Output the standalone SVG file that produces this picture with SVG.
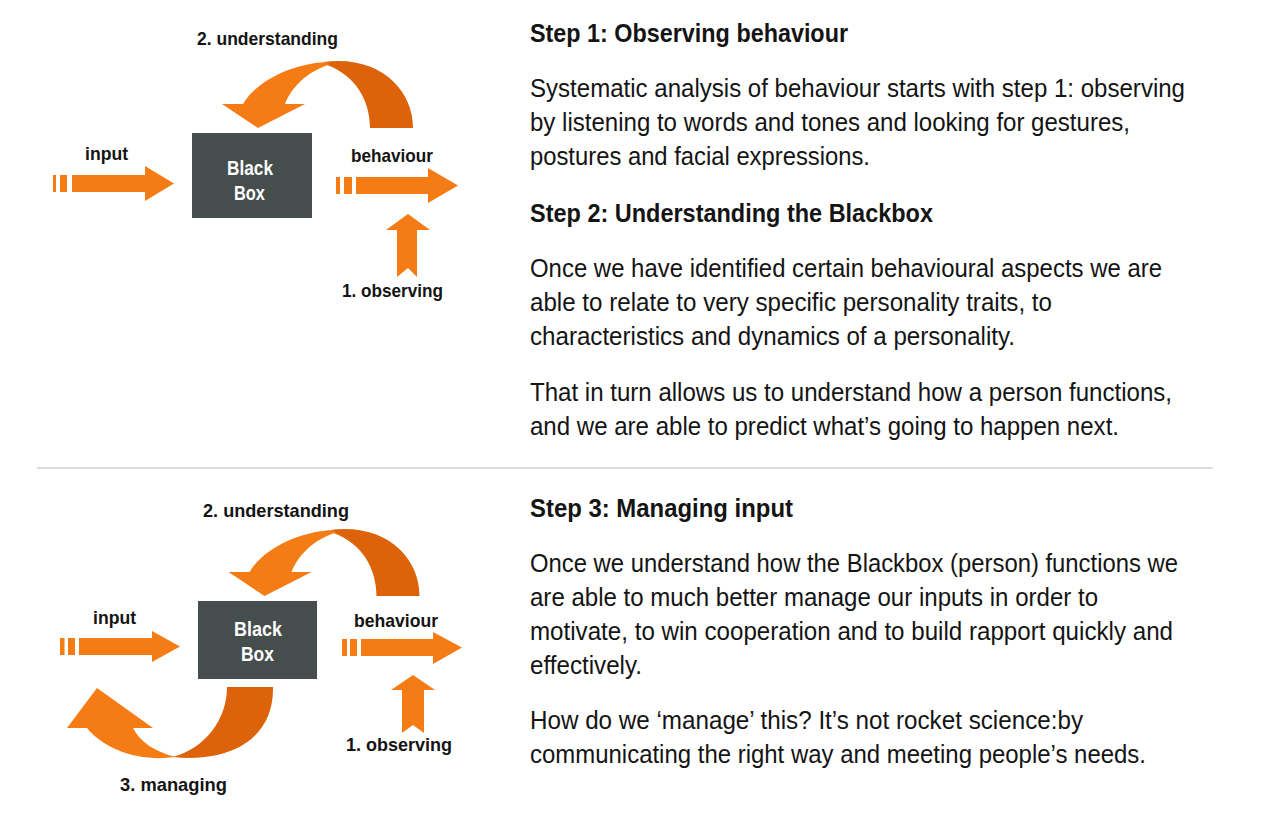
<svg xmlns="http://www.w3.org/2000/svg" width="1276" height="836" viewBox="0 0 1276 836">
<style>
.bg{fill:#ffffff}
.box{fill:#454d4d}
.bt{font-family:"Liberation Sans",Arial,sans-serif;font-weight:bold;font-size:21px;fill:#ffffff}
.lb{font-family:"Liberation Sans",Arial,sans-serif;font-weight:bold;font-size:18.5px;fill:#141414}
.h{font-family:"Liberation Sans",Arial,sans-serif;font-weight:bold;font-size:25px;fill:#141414}
.p{font-family:"Liberation Sans",Arial,sans-serif;font-size:25px;fill:#141414}
.or{fill:#f57b14}
.dk{fill:#dc6309}
.sep{stroke:#cdd3d3;stroke-width:1.5}
</style>
<defs>
<g id="understand">
<path class="dk" d="M324,62 C380,55 413,90 413,128 L370,128 C370,100 355,75 327,65 Z"/>
<path class="or" d="M326,62 C290,64 256,82 243,104 L222,104 L258,128 L305,104 L285,104 C291,88 307,71 330,64.5 Z"/>
</g>
</defs>
<rect class="bg" x="0" y="0" width="1276" height="836"/>

<g id="connectors">
  <!-- top diagram -->
  <g id="top-input-arrow">
    <rect class="or" x="53" y="175" width="3" height="17"/>
    <rect class="or" x="60" y="175" width="7" height="17"/>
    <polygon class="or" points="72,175 145,175 145,166 174,183.5 145,201 145,192 72,192"/>
  </g>
  <g id="top-behaviour-arrow">
    <rect class="or" x="336" y="177" width="4" height="17"/>
    <rect class="or" x="344" y="177" width="8" height="17"/>
    <polygon class="or" points="356,177 428,177 428,168 458,185.5 428,203 428,194 356,194"/>
  </g>
  <g id="top-observing-arrow">
    <polygon class="or" points="408,214 430,230 417,230 417,277 408,268 397,277 397,230 386,230"/>
  </g>
  <g id="top-understanding-arrow">
    <use href="#understand"/>
  </g>
  <!-- bottom diagram -->
  <g id="bottom-input-arrow">
    <rect class="or" x="60" y="638" width="4.5" height="17"/>
    <rect class="or" x="68" y="638" width="7" height="17"/>
    <polygon class="or" points="79,638 152,638 152,631 180,646.5 152,662 152,655 79,655"/>
  </g>
  <g id="bottom-behaviour-arrow">
    <rect class="or" x="342" y="639" width="5" height="17"/>
    <rect class="or" x="350" y="639" width="7" height="17"/>
    <polygon class="or" points="361,639 433,639 433,632 462,647.5 433,664 433,656 361,656"/>
  </g>
  <g id="bottom-observing-arrow">
    <polygon class="or" points="413,675 435,690 424,690 424,733 413,725 402,733 402,690 391,690"/>
  </g>
  <g id="bottom-understanding-arrow">
    <use href="#understand" transform="translate(6.5,468)"/>
  </g>
  <g id="bottom-managing-arrow">
    <path class="dk" d="M227,687 L273,687 C274,738 232,763 173,757 C205,748 227,720 227,687 Z"/>
    <path class="or" d="M175,757 C140,762 105,750 87,728 L67,728 L97,688 L153,728 L133,728 C140,742 155,752 176,757 Z"/>
  </g>
</g>

<g id="node-blackbox-top">
  <rect class="box" x="192" y="133" width="120" height="85"/>
  <text class="bt" x="227" y="175" textLength="46" lengthAdjust="spacingAndGlyphs">Black</text>
  <text class="bt" x="234" y="200" textLength="31" lengthAdjust="spacingAndGlyphs">Box</text>
</g>
<g id="node-blackbox-bottom">
  <rect class="box" x="198" y="601" width="119" height="78"/>
  <text class="bt" x="234" y="636" textLength="48" lengthAdjust="spacingAndGlyphs">Black</text>
  <text class="bt" x="241" y="661" textLength="33" lengthAdjust="spacingAndGlyphs">Box</text>
</g>

<g id="labels">
  <text class="lb" x="197" y="45" textLength="141" lengthAdjust="spacingAndGlyphs">2. understanding</text>
  <text class="lb" x="85" y="160" textLength="43" lengthAdjust="spacingAndGlyphs">input</text>
  <text class="lb" x="351" y="162" textLength="82" lengthAdjust="spacingAndGlyphs">behaviour</text>
  <text class="lb" x="342" y="297" textLength="101" lengthAdjust="spacingAndGlyphs">1. observing</text>

  <text class="lb" x="203" y="517" textLength="146" lengthAdjust="spacingAndGlyphs">2. understanding</text>
  <text class="lb" x="93" y="624" textLength="43" lengthAdjust="spacingAndGlyphs">input</text>
  <text class="lb" x="354" y="627" textLength="84" lengthAdjust="spacingAndGlyphs">behaviour</text>
  <text class="lb" x="346" y="751" textLength="106" lengthAdjust="spacingAndGlyphs">1. observing</text>
  <text class="lb" x="120" y="791" textLength="107" lengthAdjust="spacingAndGlyphs">3. managing</text>
</g>

<line id="separator" class="sep" x1="37" y1="468" x2="1213" y2="468"/>

<g id="text-step1">
  <text class="h" x="530" y="42" textLength="318" lengthAdjust="spacingAndGlyphs">Step 1: Observing behaviour</text>
  <text class="p" x="530" y="97" textLength="655" lengthAdjust="spacingAndGlyphs">Systematic analysis of behaviour starts with step 1: observing</text>
  <text class="p" x="530" y="131" textLength="600" lengthAdjust="spacingAndGlyphs">by listening to words and tones and looking for gestures,</text>
  <text class="p" x="530" y="165" textLength="340" lengthAdjust="spacingAndGlyphs">postures and facial expressions.</text>
</g>
<g id="text-step2">
  <text class="h" x="530" y="222" textLength="403" lengthAdjust="spacingAndGlyphs">Step 2: Understanding the Blackbox</text>
  <text class="p" x="530" y="277" textLength="632" lengthAdjust="spacingAndGlyphs">Once we have identified certain behavioural aspects we are</text>
  <text class="p" x="530" y="311" textLength="522" lengthAdjust="spacingAndGlyphs">able to relate to very specific personality traits, to</text>
  <text class="p" x="530" y="345" textLength="485" lengthAdjust="spacingAndGlyphs">characteristics and dynamics of a personality.</text>
  <text class="p" x="530" y="401" textLength="642" lengthAdjust="spacingAndGlyphs">That in turn allows us to understand how a person functions,</text>
  <text class="p" x="530" y="435" textLength="589" lengthAdjust="spacingAndGlyphs">and we are able to predict what’s going to happen next.</text>
</g>
<g id="text-step3">
  <text class="h" x="530" y="517" textLength="263" lengthAdjust="spacingAndGlyphs">Step 3: Managing input</text>
  <text class="p" x="530" y="572" textLength="648" lengthAdjust="spacingAndGlyphs">Once we understand how the Blackbox (person) functions we</text>
  <text class="p" x="530" y="606" textLength="568" lengthAdjust="spacingAndGlyphs">are able to much better manage our inputs in order to</text>
  <text class="p" x="530" y="640" textLength="643" lengthAdjust="spacingAndGlyphs">motivate, to win cooperation and to build rapport quickly and</text>
  <text class="p" x="530" y="674" textLength="112" lengthAdjust="spacingAndGlyphs">effectively.</text>
  <text class="p" x="530" y="729" textLength="553" lengthAdjust="spacingAndGlyphs">How do we ‘manage’ this? It’s not rocket science:by</text>
  <text class="p" x="530" y="763" textLength="616" lengthAdjust="spacingAndGlyphs">communicating the right way and meeting people’s needs.</text>
</g>
</svg>
